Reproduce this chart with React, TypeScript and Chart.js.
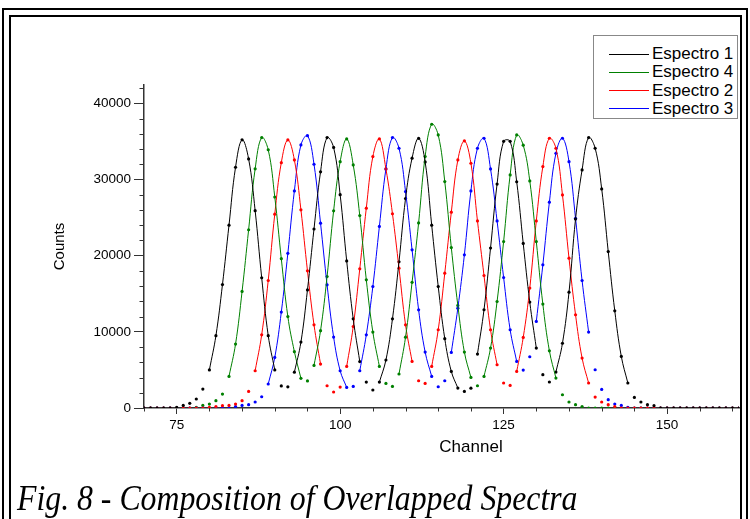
import React, { useEffect, useRef } from 'react';
import { Chart, registerables } from 'chart.js';

Chart.register(...registerables);

// Channels 70..161
const channels = [
  70, 71, 72, 73, 74, 75, 76, 77, 78, 79,
  80, 81, 82, 83, 84, 85, 86, 87, 88, 89,
  90, 91, 92, 93, 94, 95, 96, 97, 98, 99,
  100, 101, 102, 103, 104, 105, 106, 107, 108, 109,
  110, 111, 112, 113, 114, 115, 116, 117, 118, 119,
  120, 121, 122, 123, 124, 125, 126, 127, 128, 129,
  130, 131, 132, 133, 134, 135, 136, 137, 138, 139,
  140, 141, 142, 143, 144, 145, 146, 147, 148, 149,
  150, 151, 152, 153, 154, 155, 156, 157, 158, 159,
  160, 161,
];

const espectro1 = [
  0, 0, 0, 0, 0, 100, 340, 620, 1180, 2490,
  5000, 9500, 16200, 24000, 31600, 35200, 32700, 25900, 17100, 9500,
  5000, 2900, 2780, 4700, 8650, 15500, 23500, 31000, 35500, 34200,
  28000, 19300, 11700, 6100, 3400, 2360, 3400, 6300, 11700, 19200,
  27500, 32800, 35400, 32300, 24000, 15950, 9100, 4800, 2620, 2180,
  2600, 7080, 12900, 21000, 29400, 35000, 35000, 29700, 21600, 13900,
  7870, 4370, 3410, 4720, 8500, 15200, 24800, 31250, 35500, 34100,
  28760, 20540, 12760, 6770, 3280, 1390, 790, 430, 300, 0,
  0, 0, 0, 0, 0, 0, 0, 0, 0, 0,
  0, 0,
];

const espectro4 = [
  0, 0, 0, 0, 0, 0, 0, 0, 100, 340,
  520, 960, 1830, 4150, 8390, 15300, 23400, 31400, 35500, 33900,
  27700, 19600, 12000, 7400, 3900, 3550, 5590, 10150, 17260, 25880,
  32340, 35320, 31910, 25260, 16830, 9970, 5460, 3230, 2830, 4460,
  9300, 16500, 24300, 33000, 37250, 35840, 29720, 21060, 13460, 7340,
  4010, 2920, 4150, 7870, 13980, 21850, 30600, 35840, 34500, 29810,
  21850, 13640, 7510, 3930, 1740, 790, 430, 200, 0, 0,
  0, 0, 0, 0, 0, 0, 0, 0, 0, 0,
  0, 0, 0, 0, 0, 0, 0, 0, 0, 0,
  0, 0,
];

const espectro2 = [
  0, 0, 0, 0, 0, 0, 0, 0, 0, 0,
  100, 200, 300, 340, 520, 960, 2180, 4890, 9610, 16740,
  25440, 32210, 35190, 32560, 26010, 18010, 10920, 5770, 2920, 2100,
  2750, 5460, 10700, 18270, 26230, 33000, 35320, 31380, 25500, 18360,
  10920, 6110, 3580, 3230, 5460, 10270, 17700, 25700, 32560, 35060,
  32130, 24560, 17390, 10270, 5680, 3280, 2960, 4800, 9260, 15740,
  24560, 31690, 35410, 34100, 27970, 19670, 12240, 6560, 3280, 1440,
  790, 430, 200, 0, 0, 0, 0, 0, 0, 0,
  0, 0, 0, 0, 0, 0, 0, 0, 0, 0,
  0, 0,
];

const espectro3 = [
  0, 0, 0, 0, 0, 0, 0, 0, 0, 0,
  0, 0, 0, 0, 200, 340, 430, 790, 1480, 3150,
  6640, 12590, 20300, 28500, 34530, 35750, 32000, 24260, 16170, 9310,
  4890, 2700, 2830, 4890, 9610, 15950, 23830, 31380, 35500, 34100,
  28410, 20760, 12890, 7340, 4150, 2790, 3580, 7290, 13110, 20110,
  28500, 34100, 35410, 31380, 24560, 17130, 10270, 6110, 4980, 6730,
  11360, 18790, 27020, 33440, 35410, 32340, 24900, 16740, 9970, 5020,
  2440, 1090, 520, 340, 100, 0, 0, 0, 0, 0,
  0, 0, 0, 0, 0, 0, 0, 0, 0, 0,
  0, 0,
];

// fitted channel ranges (inclusive) drawn as curves
const fit1 = [[80, 90], [93, 103], [106, 118], [121, 130], [133, 144]];
const fit4 = [[83, 94], [96, 106], [109, 120], [122, 133]];
const fit2 = [[87, 97], [101, 111], [114, 124], [127, 138]];
const fit3 = [[89, 101], [103, 114], [117, 127], [130, 138]];

const seriesNames = ['Espectro 1', 'Espectro 4', 'Espectro 2', 'Espectro 3'];
const seriesColors = ['#000000', '#008000', '#ff0000', '#0000ff'];

const xMajorTicks = [75, 100, 125, 150];
const xMinorTicks = [70, 80, 85, 90, 95, 105, 110, 115, 120, 130, 135, 140, 145, 155, 160];
const yMajorTicks = [0, 10000, 20000, 30000, 40000];
const yMinorTicks = [
  2000, 4000, 6000, 8000, 12000, 14000, 16000, 18000, 22000, 24000,
  26000, 28000, 32000, 34000, 36000, 38000, 42000,
];

const X_MIN = 70;
const X_MAX = 161;
const Y_MIN = 0;
const Y_MAX = 42400;

const AXIS = '#333333';
const SANS = '"Liberation Sans", Arial, sans-serif';

function inFit(c: number, ranges: number[][]) {
  return ranges.some(([a, b]) => c >= a && c <= b);
}

function lineData(values: number[], ranges: number[][]) {
  return channels.map((c, i) => ({ x: c, y: inFit(c, ranges) ? values[i] : null }));
}

function pointData(values: number[]) {
  return channels.map((c, i) => ({ x: c, y: values[i] }));
}

const minorTickPlugin = {
  id: 'minorTicks',
  afterDraw(chart: any) {
    const { ctx } = chart;
    const x = chart.scales.x;
    const y = chart.scales.y;
    ctx.save();
    ctx.strokeStyle = AXIS;
    ctx.lineWidth = 1;
    xMinorTicks.forEach((v) => {
      const px = Math.round(x.getPixelForValue(v)) + 0.5;
      ctx.beginPath();
      ctx.moveTo(px, y.bottom);
      ctx.lineTo(px, y.bottom + 3.5);
      ctx.stroke();
    });
    yMinorTicks.forEach((v) => {
      const py = Math.round(y.getPixelForValue(v)) + 0.5;
      ctx.beginPath();
      ctx.moveTo(x.left, py);
      ctx.lineTo(x.left - 4.5, py);
      ctx.stroke();
    });
    ctx.restore();
  },
};

export default function App() {
  const ref = useRef<HTMLCanvasElement>(null);

  useEffect(() => {
    const valuesList = [espectro1, espectro4, espectro2, espectro3];
    const fitsList = [fit1, fit4, fit2, fit3];

    const lineSets = valuesList.map((vals, k) => ({
      type: 'line' as const,
      label: seriesNames[k],
      data: lineData(vals, fitsList[k]),
      borderColor: seriesColors[k],
      borderWidth: 1,
      pointRadius: 0,
      tension: 0.4,
      spanGaps: false,
      fill: false,
    }));

    // points: draw green last so it sits on top at the baseline
    const pointOrder = [0, 2, 3, 1];
    const pointSets = pointOrder.map((k) => ({
      type: 'scatter' as const,
      label: seriesNames[k] + ' data',
      data: pointData(valuesList[k]),
      backgroundColor: seriesColors[k],
      borderColor: seriesColors[k],
      borderWidth: 0,
      pointRadius: 1.6,
      showLine: false,
    }));

    const chart = new Chart(ref.current as HTMLCanvasElement, {
      type: 'scatter',
      data: { datasets: [...lineSets, ...pointSets] as any },
      options: {
        animation: false,
        responsive: false,
        events: [],
        layout: { padding: { left: 0, right: 11, top: 85, bottom: 0 } },
        plugins: {
          legend: { display: false },
          tooltip: { enabled: false },
        },
        scales: {
          x: {
            type: 'linear',
            min: X_MIN,
            max: X_MAX,
            afterBuildTicks: (s: any) => {
              s.ticks = xMajorTicks.map((v) => ({ value: v }));
            },
            afterFit: (s: any) => {
              s.height = 62;
            },
            border: { display: true, color: AXIS, width: 1.5 },
            grid: {
              display: true,
              drawOnChartArea: false,
              drawTicks: true,
              tickLength: 6,
              tickColor: AXIS,
              tickWidth: 1,
            },
            ticks: {
              color: '#000',
              font: { family: SANS, size: 13.5 },
              padding: 3,
              autoSkip: false,
              maxRotation: 0,
              callback: (v: any) => String(v),
            },
          },
          y: {
            type: 'linear',
            min: Y_MIN,
            max: Y_MAX,
            afterBuildTicks: (s: any) => {
              s.ticks = yMajorTicks.map((v) => ({ value: v }));
            },
            afterFit: (s: any) => {
              s.width = 144;
            },
            border: { display: true, color: AXIS, width: 1.5 },
            grid: {
              display: true,
              drawOnChartArea: false,
              drawTicks: true,
              tickLength: 10,
              tickColor: AXIS,
              tickWidth: 1,
            },
            ticks: {
              color: '#000',
              font: { family: SANS, size: 13.5 },
              padding: 3,
              autoSkip: false,
              callback: (v: any) => String(v),
            },
            title: {
              display: true,
              text: 'Counts',
              color: '#000',
              font: { family: SANS, size: 15 },
              padding: { top: 51, bottom: 0 },
            },
          },
        },
      },
      plugins: [minorTickPlugin],
    } as any);

    return () => chart.destroy();
  }, []);

  const frame = (left: number, top: number, right: number): React.CSSProperties => ({
    position: 'absolute',
    left,
    top,
    width: right - left,
    height: 600,
    borderLeft: '2px solid #000',
    borderTop: '2px solid #000',
    borderRight: '2px solid #000',
    boxSizing: 'border-box',
    pointerEvents: 'none',
  });

  return (
    <div
      style={{
        position: 'fixed',
        left: 0,
        top: 0,
        width: 750,
        height: 519,
        background: '#fff',
        overflow: 'hidden',
      }}
    >
      <canvas
        ref={ref}
        width={750}
        height={470}
        style={{ position: 'absolute', left: 0, top: 0, width: 750, height: 470 }}
      />
      <div style={frame(2, 8, 748)} />
      <div style={frame(9, 15, 742)} />

      <div
        style={{
          position: 'absolute',
          left: 593,
          top: 35,
          width: 145,
          height: 84,
          border: '1px solid #888',
          boxSizing: 'border-box',
          background: '#fff',
        }}
      />
      {seriesNames.map((name, i) => (
        <div
          key={name}
          style={{
            position: 'absolute',
            left: 609,
            top: 54 + i * 18.33 - 9,
            height: 18,
            display: 'flex',
            alignItems: 'center',
            whiteSpace: 'nowrap',
          }}
        >
          <div style={{ width: 40, height: 1, background: seriesColors[i] }} />
          <span
            style={{
              marginLeft: 3,
              fontFamily: SANS,
              fontSize: 17,
              lineHeight: '18px',
              color: '#000',
            }}
          >
            {name}
          </span>
        </div>
      ))}

      <div
        style={{
          position: 'absolute',
          left: 371,
          width: 200,
          top: 437,
          height: 20,
          lineHeight: '20px',
          textAlign: 'center',
          fontFamily: SANS,
          fontSize: 17,
          color: '#000',
        }}
      >
        Channel
      </div>

      <div
        style={{
          position: 'absolute',
          left: 17,
          top: 481,
          fontFamily: '"Liberation Serif", "Times New Roman", serif',
          fontStyle: 'italic',
          fontSize: 35,
          lineHeight: 1,
          whiteSpace: 'nowrap',
          color: '#000',
          transformOrigin: 'left top',
          transform: 'scaleX(0.908)',
        }}
      >
        Fig. 8 - Composition of Overlapped Spectra
      </div>
    </div>
  );
}
